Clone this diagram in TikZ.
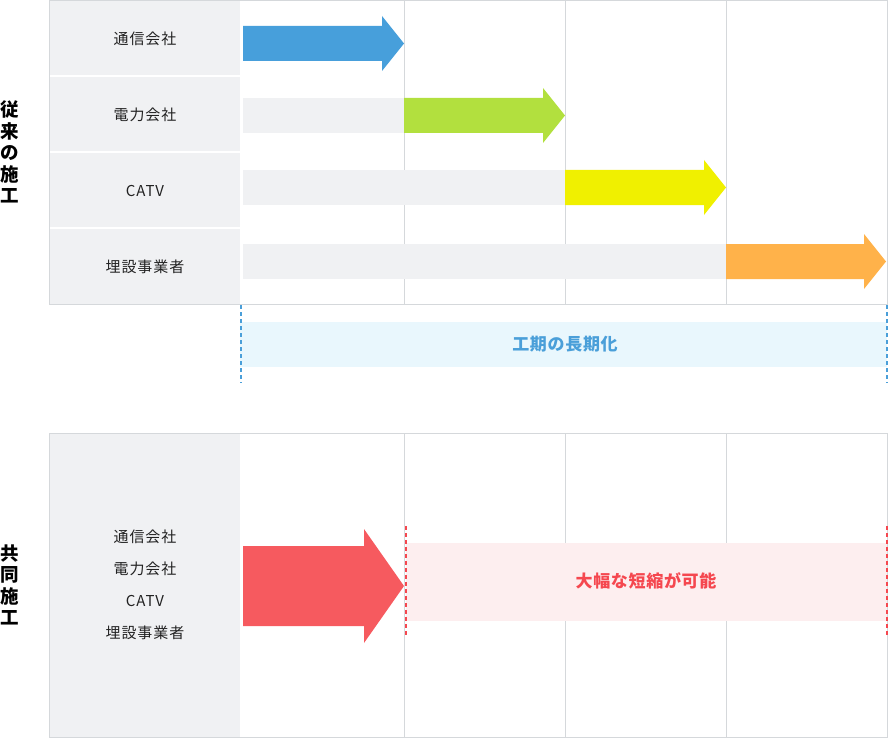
\documentclass[tikz,border=0pt]{standalone}
\usepackage{fontspec}
\setmainfont{Noto Sans CJK JP}
\usepackage{tikz}
\usepackage{xcolor}
\usetikzlibrary{shapes, positioning}

\definecolor{gridgray}{HTML}{D5D8DB}
\definecolor{cellgray}{HTML}{F0F1F3}
\definecolor{arrblue}{HTML}{479FDB}
\definecolor{arrgreen}{HTML}{B2E03E}
\definecolor{arryellow}{HTML}{F0F000}
\definecolor{arrorange}{HTML}{FFB24A}
\definecolor{arrred}{HTML}{F65A5F}
\definecolor{bandblue}{HTML}{E9F7FD}
\definecolor{bandpink}{HTML}{FDEEEF}
\definecolor{txtblue}{HTML}{4A9FD9}
\definecolor{txtred}{HTML}{F5474F}
\definecolor{txtdark}{HTML}{222222}

\begin{document}
\begin{tikzpicture}[x=1pt, y=-1pt,
        lbl/.style={text=txtdark, font=\fontsize{15}{17}\selectfont\addfontfeature{LetterSpace=6}, inner sep=0pt},
        side/.style={text=black, font=\fontsize{18.5}{21.5}\selectfont\bfseries, align=center, inner sep=0pt},
        band/.style={font=\fontsize{17}{20}\selectfont\bfseries\addfontfeature{LetterSpace=4}, inner sep=0pt},
        grid/.style={draw=gridgray, line width=1pt}]
    \useasboundingbox (0, 0) rectangle (888, 738);

    % upper chart
    \fill[cellgray] (49, 0) rectangle (240, 75);
    \fill[cellgray] (49, 77) rectangle (240, 151);
    \fill[cellgray] (49, 153) rectangle (240, 227);
    \fill[cellgray] (49, 229) rectangle (240, 304);
    \foreach \x in {404, 565, 726}
        \draw[grid] (\x, 0) -- (\x, 304);
    \draw[grid] (49.5, 0.5) rectangle (887, 304);

    \node[lbl] (a1) at (145, 39) {通信会社};
    \node[lbl] (a2) at (145, 115) {電力会社};
    \node[lbl] (a3) at (145, 191) {CATV};
    \node[lbl] (a4) at (145, 267) {埋設事業者};

    \foreach \y/\s/\t/\c in {43.5/243/404/arrblue, 115.5/404/565/arrgreen,
            187.5/565/726/arryellow, 261.5/726/886/arrorange} {
        \fill[cellgray] (243, \y-17.5) rectangle (\s, \y+17.5);
        \fill[\c] (\s, \y-17.5) -- (\t-22, \y-17.5) -- (\t-22, \y-27.5) -- (\t, \y)
            -- (\t-22, \y+27.5) -- (\t-22, \y+17.5) -- (\s, \y+17.5) -- cycle;
    }

    \node[side] (old) at (10, 152) {従\\来\\の\\施\\工};

    \fill[bandblue] (240, 322) rectangle (887, 367);
    \draw[txtblue, line width=2pt, dash pattern=on 4pt off 3pt] (241, 305) -- (241, 383)
        (886.5, 305) -- (886.5, 383);
    \node[band, text=txtblue] (longer) at (565, 344) {工期の長期化};

    % lower chart
    \fill[cellgray] (49, 433) rectangle (240, 737);
    \foreach \x in {404, 565, 726}
        \draw[grid] (\x, 433) -- (\x, 737);
    \draw[grid] (49.5, 433.5) rectangle (887, 737);

    \node[lbl] (b1) at (145, 537) {通信会社};
    \node[lbl] (b2) at (145, 569) {電力会社};
    \node[lbl] (b3) at (145, 601) {CATV};
    \node[lbl] (b4) at (145, 633) {埋設事業者};

    \fill[arrred] (243, 546) -- (364, 546) -- (364, 529) -- (404, 586)
        -- (364, 643) -- (364, 626) -- (243, 626) -- cycle;

    \fill[bandpink] (406, 543) rectangle (887, 621);
    \draw[txtred, line width=2pt, dash pattern=on 4pt off 3pt] (405.5, 526) -- (405.5, 637)
        (886.5, 526) -- (886.5, 637);
    \node[band, text=txtred] (shorter) at (646, 581) {大幅な短縮が可能};

    \node[side] (joint) at (10, 585) {共\\同\\施\\工};
\end{tikzpicture}
\end{document}
